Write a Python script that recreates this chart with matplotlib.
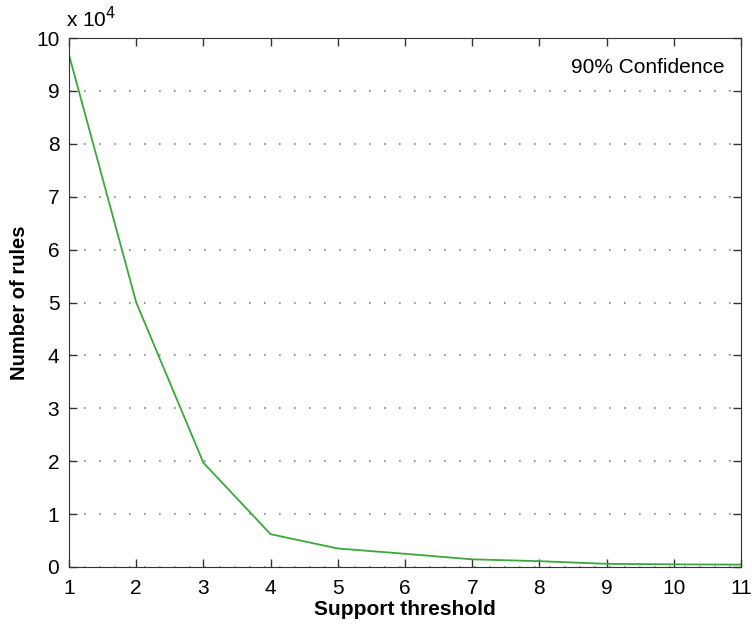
import matplotlib
matplotlib.use("Agg")
import matplotlib.pyplot as plt
from matplotlib.ticker import MultipleLocator

plt.rcParams['font.family'] = ['Liberation Sans', 'DejaVu Sans']

support = [1, 2, 3, 4, 5, 6, 7, 8, 9, 10, 11]
rules = [96800, 50000, 19700, 6200, 3500, 2500, 1450, 1100, 600, 500, 450]
ytick_labels = [str(i) for i in range(0, 11)]

fig = plt.figure(figsize=(7.52, 6.25), dpi=100)
ax = fig.add_axes([0.0918, 0.0928, 0.8936, 0.8464])
ax.plot(support, rules, color='#3aa83a', lw=1.3)
ax.set_xlim(1, 11)
ax.set_ylim(0, 100000)
ax.xaxis.set_major_locator(MultipleLocator(1))
ax.set_yticks(range(0, 100001, 10000))
ax.set_yticklabels(ytick_labels)
ax.tick_params(direction='in', top=True, right=True, labelsize=15, length=6, width=1, color='#333333')
ax.tick_params(axis='x', pad=9)
ax.tick_params(axis='y', pad=7)
ax.grid(axis='y', linestyle=(0, (1, 8)), color='#888888', lw=1.2)
for s in ax.spines.values():
    s.set_color('#333333')
ax.set_xlabel('Support threshold', fontsize=15, fontweight='bold', labelpad=1)
ax.set_ylabel('Number of rules', fontsize=14.5, fontweight='bold', labelpad=5)
ax.text(-0.005, 1.012, r'x 10$^4$', transform=ax.transAxes, fontsize=15, va='bottom', ha='left')
ax.text(0.975, 0.945, '90% Confidence', transform=ax.transAxes, fontsize=15, ha='right', va='center')
fig.savefig('out.png', dpi=100)
